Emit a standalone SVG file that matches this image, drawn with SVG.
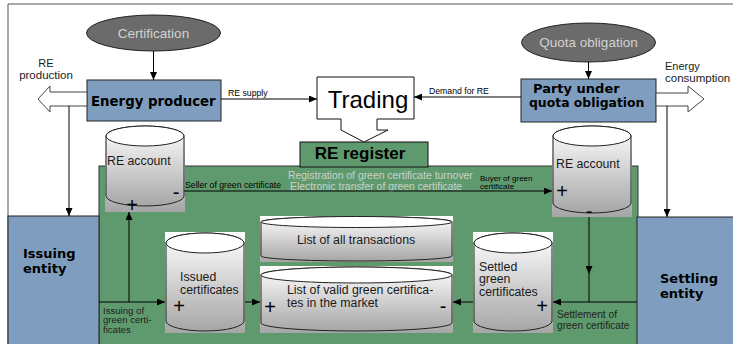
<svg xmlns="http://www.w3.org/2000/svg" width="733" height="344" viewBox="0 0 733 344">
<defs>
<style>
.t{font-family:"Liberation Sans",Arial,sans-serif;fill:#1a1a1a}
.b{font-family:"DejaVu Sans",Verdana,sans-serif;font-weight:bold;fill:#000}
.blue{fill:#7f9ebf;stroke:#222;stroke-width:1}
.ell{fill:#6b6b6b;stroke:#222;stroke-width:1}
.etx{font-family:"Liberation Sans",Arial,sans-serif;font-size:13.5px;fill:#d2d2d2;text-anchor:middle}
.cyl{fill:url(#cg);stroke:#222;stroke-width:1}
.bg{fill:url(#cg)}
.top{fill:#fff;stroke:#222;stroke-width:1}
.ln{fill:none;stroke:#000;stroke-width:1}
.hol{fill:#fff;stroke:#444;stroke-width:1}
.sm{font-family:"Liberation Sans",Arial,sans-serif;font-size:8.7px;fill:#000}
.cy{font-family:"Liberation Sans",Arial,sans-serif;font-size:12.3px;fill:#1a1a1a}
.sg{font-family:"Liberation Sans",Arial,sans-serif;font-size:20px;fill:#000;text-anchor:middle}
.gl{font-family:"Liberation Sans",Arial,sans-serif;font-size:10.2px;fill:#1e1e1e}
</style>
<linearGradient id="cg" x1="0" y1="0" x2="0" y2="1">
<stop offset="0" stop-color="#ffffff"/>
<stop offset="1" stop-color="#a6a6a6"/>
</linearGradient>
<marker id="ah" markerUnits="userSpaceOnUse" markerWidth="8" markerHeight="7" refX="8" refY="3.5" orient="auto">
<path d="M0,0 L8,3.5 L0,7 z" fill="#000"/>
</marker>
</defs>

<rect x="0" y="0" width="733" height="344" fill="#fff"/>
<path d="M8,344 L8,4 L733,4" fill="none" stroke="#555" stroke-width="1"/>

<g id="re-register-area">
<rect x="99" y="166" width="539" height="180" fill="#5f9a6e" stroke="#333" stroke-width="1"/>
<text class="gl" x="288" y="179" style="fill:#c9d2c9;font-size:10.4px">Registration of green certificate turnover</text>
<text class="gl" x="290" y="189.5" style="fill:#c9d2c9;font-size:10.4px">Electronic transfer of green certificate</text>
</g>

<g id="re-register">
<rect x="300" y="142" width="128" height="25" fill="#5f9a6e" stroke="#111" stroke-width="1"/>
<text x="360" y="159" style="font-family:'Liberation Sans',Arial,sans-serif;font-weight:bold;font-size:17px;text-anchor:middle;fill:#000">RE register</text>
</g>

<g id="trading">
<path d="M317,77 L414,77 L414,119 L377,119 L377,130 L388,130 L364,142 L341,130 L341,119 L317,119 Z" fill="#fff" stroke="#111" stroke-width="1"/>
<text x="368" y="108" style="font-family:'Liberation Sans',Arial,sans-serif;font-size:24px;text-anchor:middle;fill:#000">Trading</text>
</g>

<g id="certification">
<ellipse class="ell" cx="153.5" cy="33" rx="67" ry="18"/>
<text class="etx" x="153.5" y="38">Certification</text>
</g>

<g id="quota-obligation">
<ellipse class="ell" cx="588.5" cy="42.5" rx="67" ry="19.5"/>
<text class="etx" x="588.5" y="47">Quota obligation</text>
</g>

<g id="energy-producer">
<rect class="blue" x="87" y="80" width="134" height="41"/>
<text class="b" x="91" y="106" style="font-size:13.3px">Energy producer</text>
</g>

<g id="party-under-quota">
<rect class="blue" x="521" y="79" width="135" height="43"/>
<text class="b" x="533" y="92.5" style="font-size:13px">Party under</text>
<text class="b" x="529" y="107" style="font-size:12.4px">quota obligation</text>
</g>

<g id="re-production">
<path class="hol" d="M87,92 L50,92 L50,86 L38,99 L50,112 L50,106 L87,106 Z"/>
<text class="t" x="46" y="67" style="font-size:11px;text-anchor:middle">RE</text>
<text class="t" x="46" y="78.5" style="font-size:11.5px;text-anchor:middle">production</text>
</g>

<g id="energy-consumption">
<path class="hol" d="M656,93 L688,93 L688,86 L704,99 L688,112 L688,106 L656,106 Z"/>
<text class="t" x="665" y="69.5" style="font-size:11px">Energy</text>
<text class="t" x="665" y="81.5" style="font-size:11.5px">consumption</text>
</g>

<g id="issuing-entity">
<rect class="blue" x="8" y="216" width="91" height="130"/>
<text class="b" x="23" y="258" style="font-size:13px">Issuing</text>
<text class="b" x="23" y="273" style="font-size:13px">entity</text>
</g>

<g id="settling-entity">
<rect class="blue" x="637" y="217" width="100" height="130"/>
<text class="b" x="660" y="283" style="font-size:13px">Settling</text>
<text class="b" x="660" y="298" style="font-size:13px">entity</text>
</g>

<g id="re-account-seller">
<rect class="bg" x="105" y="125" width="80" height="87"/>
<path class="cyl" d="M106,136 L106,196 A39,10 0 0 0 184,196 L184,136 A39,10 0 0 0 106,136 Z"/>
<ellipse class="top" cx="145" cy="136" rx="39" ry="10"/>
<text class="cy" x="107" y="165">RE account</text>
<text class="sg" x="176" y="199">-</text>
<text class="sg" x="132" y="212">+</text>
</g>

<g id="re-account-buyer">
<rect class="bg" x="552" y="125" width="80" height="92"/>
<path class="cyl" d="M553,136 L553,203 A39,10 0 0 0 631,203 L631,136 A39,10 0 0 0 553,136 Z"/>
<ellipse class="top" cx="592" cy="136" rx="39" ry="10"/>
<text class="cy" x="556" y="168">RE account</text>
<text class="sg" x="562" y="198">+</text>
<text class="sg" x="589" y="218">-</text>
</g>

<g id="issued-certificates">
<rect class="bg" x="165" y="232" width="80" height="101"/>
<path class="cyl" d="M166,243 L166,321 A39,10 0 0 0 244,321 L244,243 A39,10 0 0 0 166,243 Z"/>
<ellipse class="top" cx="205" cy="243" rx="39" ry="10"/>
<text class="cy" x="180" y="281">Issued</text>
<text class="cy" x="180" y="293.5">certificates</text>
<text class="sg" x="179" y="313">+</text>
</g>

<g id="list-all-transactions">
<rect class="bg" x="260" y="216" width="193" height="46"/>
<path class="cyl" d="M261,222 L261,256 A95.5,5 0 0 0 452,256 L452,222 A95.5,5.5 0 0 0 261,222 Z"/>
<ellipse class="top" cx="356.5" cy="222" rx="95.5" ry="5.5"/>
<text class="cy" x="356" y="244" style="text-anchor:middle">List of all transactions</text>
</g>

<g id="list-valid-certificates">
<rect class="bg" x="260" y="266" width="193" height="67"/>
<path class="cyl" d="M261,275 L261,323 A95.5,8 0 0 0 452,323 L452,275 A95.5,8 0 0 0 261,275 Z"/>
<ellipse class="top" cx="356.5" cy="275" rx="95.5" ry="8"/>
<text class="cy" x="287" y="294">List of valid green certifica-</text>
<text class="cy" x="287" y="306.5">tes in the market</text>
<text class="sg" x="270" y="314">+</text>
<text class="sg" x="443" y="313">-</text>
</g>

<g id="settled-certificates">
<rect class="bg" x="473" y="232" width="80" height="101"/>
<path class="cyl" d="M474,243 L474,321 A39,10 0 0 0 552,321 L552,243 A39,10 0 0 0 474,243 Z"/>
<ellipse class="top" cx="513" cy="243" rx="39" ry="10"/>
<text class="cy" x="479" y="270.5">Settled</text>
<text class="cy" x="479" y="283">green</text>
<text class="cy" x="479" y="295.5">certificates</text>
<text class="sg" x="542" y="313">+</text>
</g>

<g id="connectors">
<path class="ln" d="M153.5,51 L153.5,80" marker-end="url(#ah)"/>
<path class="ln" d="M588.5,62 L588.5,79" marker-end="url(#ah)"/>
<path class="ln" d="M221,99 L317,99" marker-end="url(#ah)"/>
<path class="ln" d="M521,97 L414,97" marker-end="url(#ah)"/>
<path class="ln" d="M69,106 L69,216" marker-end="url(#ah)"/>
<path class="ln" d="M667,106 L667,217" marker-end="url(#ah)"/>
<path class="ln" d="M184,191 L552,191" marker-end="url(#ah)"/>
<path class="ln" d="M99,302 L165,302" marker-end="url(#ah)"/>
<path class="ln" d="M129,302 L129,212" marker-end="url(#ah)"/>
<path class="ln" d="M245,302 L260,302" marker-end="url(#ah)"/>
<path class="ln" d="M473,302 L453,302" marker-end="url(#ah)"/>
<path class="ln" d="M637,302 L553,302" marker-end="url(#ah)"/>
<path class="ln" d="M589,217 L589,274 L589,302" marker-mid="url(#ah)"/>
<text class="sm" x="228" y="96">RE supply</text>
<text class="sm" x="429" y="93.5">Demand for RE</text>
<text class="sm" x="185" y="188">Seller of green certificate</text>
<text class="sm" x="480" y="181" style="font-size:8px">Buyer of green</text>
<text class="sm" x="480" y="189" style="font-size:8px">certificate</text>
<text class="gl" x="103" y="313.5" style="font-size:9.6px">Issuing of</text>
<text class="gl" x="103" y="323.3" style="font-size:9.6px">green certi-</text>
<text class="gl" x="103" y="333.1" style="font-size:9.6px">ficates</text>
<text class="gl" x="557" y="318">Settlement of</text>
<text class="gl" x="557" y="329">green certificate</text>
</g>
</svg>
